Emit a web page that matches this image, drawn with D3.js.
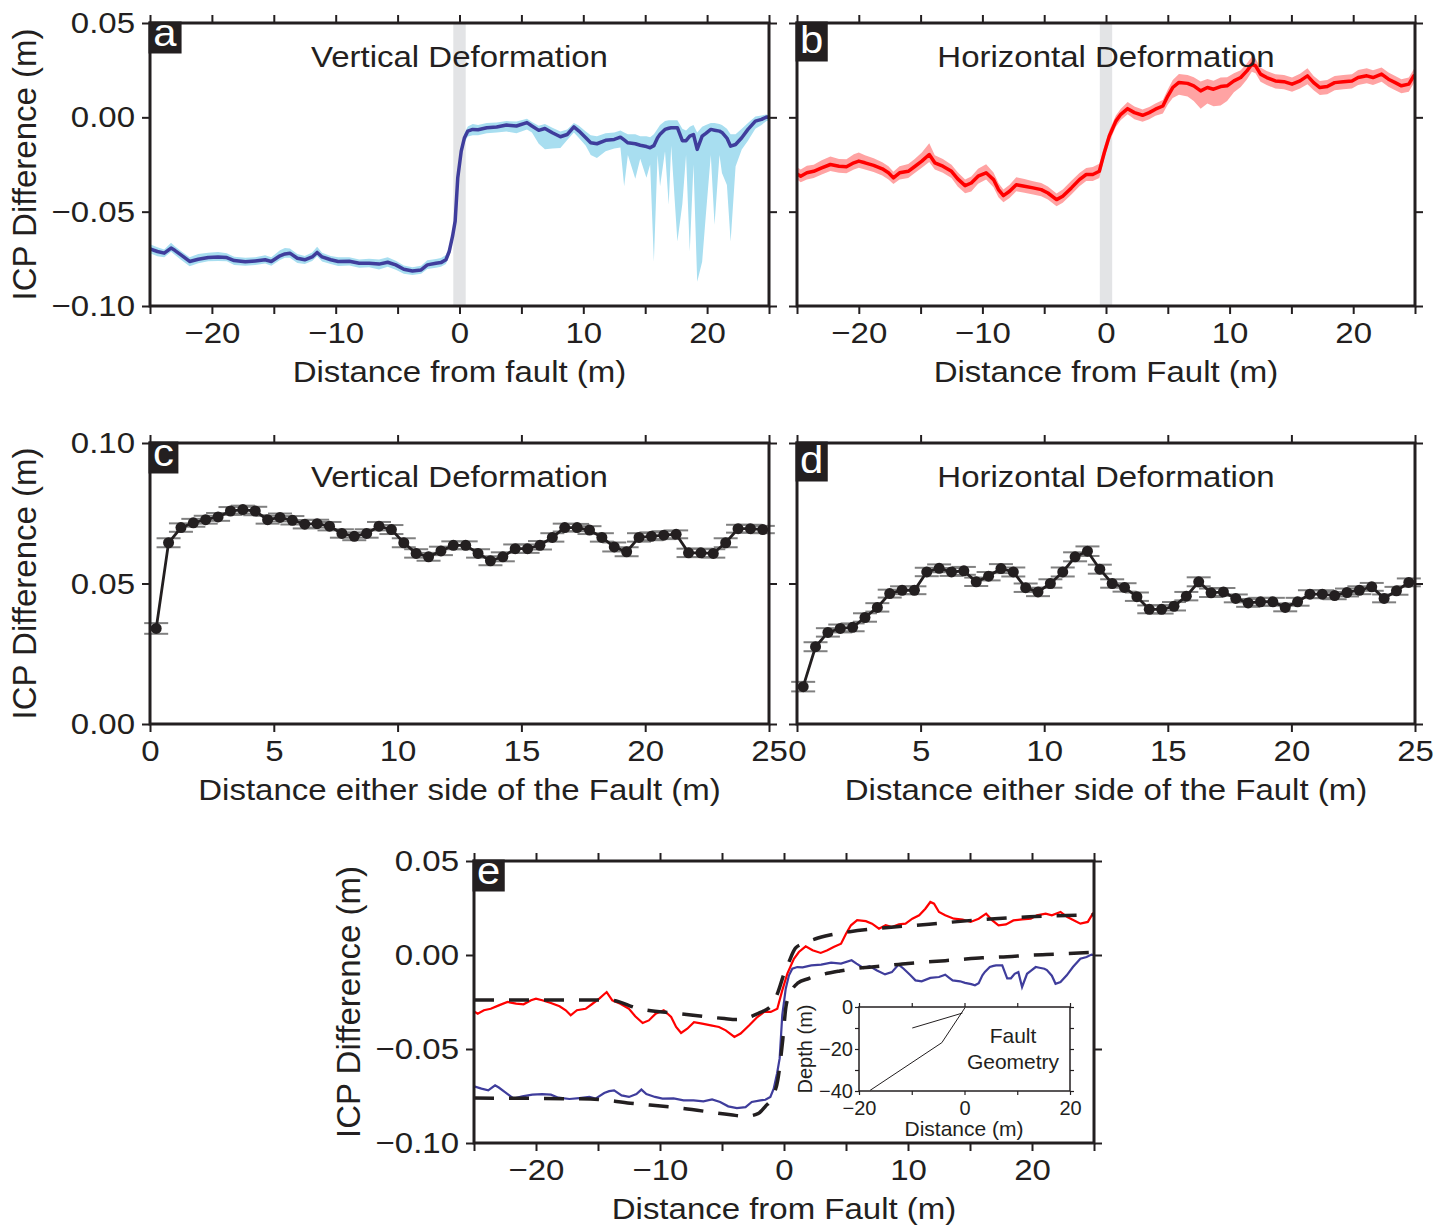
<!DOCTYPE html>
<html>
<head>
<meta charset="utf-8">
<script src="https://cdn.jsdelivr.net/npm/d3@7"></script>
<style>
body { margin: 0; background: #fff; }
svg text { font-family: "Liberation Sans", Arial, Helvetica, sans-serif; fill: #231f20; }
.wide { transform-box: fill-box; transform-origin: center; transform: scaleX(1.1); }
.wideR { transform-box: fill-box; transform-origin: right center; transform: scaleX(1.1); }
</style>
</head>
<body>
<svg id="chart" width="1450" height="1226"></svg>
<script>
// ---- data ----
// profile across the fault, vertical component (panels a, e)
let vertX = [-25.0,-24.4,-23.85,-23.3,-23.0,-22.5,-21.8,-21.1,-20.3,-19.5,-18.8,-18.2,-17.3,-16.5,-15.7,-15.2,-14.5,-14.1,-13.7,-13.1,
  -12.5,-11.9,-11.5,-11.1,-10.4,-9.8,-8.9,-8.1,-7.3,-6.5,-5.8,-5.15,-4.5,-3.8,-3.1,-2.6,-1.9,-1.5,-1.1,-0.83,
  -0.56,-0.35,-0.14,0.14,0.40,0.67,1.07,1.5,
  2.2,3.0,3.8,4.6,5.45,5.85,6.4,6.9,7.5,8.15,8.7,9.24,9.65,10.2,10.6,11.1,11.8,12.5,13.0,13.3,13.6,14.2,14.6,15.1,15.4,
  15.7,16.0,16.2,16.6,16.9,17.1,17.6,18.0,18.3,18.6,18.9,19.2,19.6,19.9,20.3,20.6,21.0,21.2,21.6,21.9,22.3,22.8,23.3,
  23.9,24.4,24.8,25.0];
let vertY = [-.0698,-.0711,-.0720,-.0693,-.0705,-.0729,-.0764,-.0752,-.0743,-.0740,-.0743,-.0759,-.0766,-.0761,-.0755,-.0764,-.0734,-.0724,-.0720,-.0747,
  -.0755,-.0740,-.0716,-.0740,-.0755,-.0764,-.0763,-.0773,-.0773,-.0778,-.0768,-.0782,-.0805,-.0814,-.0809,-.0782,-.0773,-.0770,-.0755,-.0711,
  -.0630,-.0550,-.0320,-.0179,-.0108,-.0073,-.0064,-.0066,
  -.0055,-.0051,-.0041,-.0046,-.0028,-.0046,-.0069,-.0059,-.0082,-.0103,-.0091,-.0051,-.0073,-.0108,-.0135,-.0140,-.0122,-.0117,-.0105,-.0120,-.0135,
  -.0140,-.0148,-.0155,-.0161,-.0150,-.0108,-.0090,-.0064,-.0058,-.0055,-.0055,-.0124,-.0124,-.0100,-.0091,-.0170,-.0100,-.0085,-.0064,-.0068,
  -.0073,-.0080,-.0110,-.0153,-.0144,-.0108,-.0064,-.0020,-.0011,.0002,.0000];
let vertUp = [.0025,.0022,.0020,.0028,.0022,.0020,.0022,.0028,.0025,.0026,.0022,.0020,.0022,.0020,.0024,.0022,.0030,.0032,.0025,.0022,
  .0020,.0024,.0030,.0022,.0020,.0022,.0022,.0020,.0024,.0025,.0026,.0022,.0020,.0020,.0022,.0024,.0022,.0024,.0025,.0025,
  .0025,.0025,.0025,.0025,.0025,.0025,.0029,.0026,
  .0025,.0023,.0021,.0024,.0020,.0021,.0024,.0024,.0027,.0028,.0026,.0021,.0028,.0033,.0040,.0040,.0037,.0037,.0035,.0040,.0045,
  .0050,.0048,.0055,.0056,.0060,.0048,.0050,.0044,.0043,.0040,.0040,.0064,.0054,.0050,.0051,.0090,.0050,.0045,.0034,.0038,
  .0038,.0040,.0050,.0063,.0054,.0048,.0034,.0025,.0021,.0013,.0010];
let vertDown = [.0022,.0025,.0022,.0020,.0024,.0026,.0025,.0022,.0020,.0022,.0020,.0024,.0020,.0022,.0020,.0022,.0022,.0020,.0024,.0025,
  .0022,.0022,.0020,.0024,.0022,.0024,.0022,.0024,.0022,.0028,.0024,.0026,.0024,.0022,.0020,.0022,.0024,.0022,.0022,.0025,
  .0025,.0025,.0025,.0025,.0025,.0028,.0031,.0029,
  .0030,.0029,.0034,.0039,.0037,.0034,.0071,.0110,.0083,.0060,.0029,.0029,.0037,.0042,.0065,.0075,.0058,.0048,.0055,.0245,.0065,
  .0186,.0072,.0165,.0089,.0615,.0092,.0275,.0116,.0405,.0095,.0603,.0336,.0076,.0611,.0159,.0701,.0665,.0431,.0136,.0501,
  .0127,.0215,.0248,.0505,.0116,.0062,.0060,.0040,.0029,.0022,.0020];

// profile across the fault, horizontal component (panels b, e)
let horizX = [-25.0,-24.7,-24.2,-23.65,-23.0,-22.3,-21.6,-21.0,-20.4,-20.0,-19.5,-18.8,-18.1,-17.6,-17.2,-16.7,-16.0,-15.5,-14.9,-14.3,
  -13.85,-13.2,-12.5,-12.0,-11.4,-10.9,-10.35,-9.7,-9.1,-8.7,-8.3,-7.8,-7.26,-6.6,-5.9,-5.24,-4.7,-4.0,-3.5,-2.8,
  -2.15,-1.6,-1.07,-0.54,-0.14,0.27,0.8,1.2,1.75,2.3,2.96,3.5,4.0,4.6,5.0,5.4,5.9,6.6,7.1,7.66,
  8.2,8.7,9.27,9.8,10.35,10.9,11.4,11.8,12.1,12.5,13.0,13.7,14.4,15.05,15.7,16.3,16.8,17.3,17.9,18.5,
  19.2,19.9,20.4,21.1,21.6,22.3,22.85,23.4,23.9,24.5,24.9,25.0];
let horizY = [-.0300,-.0312,-.0294,-.0286,-.0268,-.0250,-.0259,-.0262,-.0241,-.0232,-.0241,-.0255,-.0273,-.0294,-.0321,-.0294,-.0286,-.0262,-.0232,-.0197,
  -.0241,-.0259,-.0286,-.0326,-.0362,-.0348,-.0312,-.0294,-.0330,-.0383,-.0415,-.0392,-.0357,-.0365,-.0374,-.0383,-.0401,-.0436,-.0418,-.0374,
  -.0330,-.0303,-.0303,-.0286,-.0188,-.0099,-.0020,.0016,.0046,.0025,.0011,.0025,.0043,.0060,.0113,.0158,.0185,.0180,.0167,.0140,
  .0158,.0149,.0163,.0167,.0193,.0211,.0246,.0282,.0273,.0229,.0211,.0193,.0189,.0176,.0193,.0220,.0184,.0158,.0163,.0184,
  .0189,.0193,.0211,.0220,.0211,.0229,.0202,.0184,.0167,.0176,.0220,.0215];
let horizUp = [.0035,.0035,.0038,.0035,.0040,.0042,.0038,.0040,.0045,.0045,.0040,.0038,.0035,.0035,.0032,.0035,.0038,.0040,.0045,.0060,
  .0040,.0038,.0035,.0035,.0032,.0035,.0040,.0045,.0038,.0035,.0032,.0035,.0040,.0038,.0035,.0035,.0035,.0032,.0035,.0038,
  .0035,.0035,.0040,.0040,.0035,.0030,.0030,.0030,.0035,.0032,.0030,.0030,.0030,.0032,.0035,.0040,.0045,.0045,.0045,.0050,
  .0045,.0045,.0048,.0045,.0040,.0038,.0040,.0040,.0038,.0035,.0035,.0035,.0035,.0035,.0038,.0040,.0035,.0035,.0035,.0035,
  .0035,.0035,.0040,.0040,.0038,.0035,.0035,.0035,.0035,.0035,.0035,.0035];
let horizDown = [.0030,.0032,.0035,.0035,.0035,.0035,.0035,.0035,.0035,.0035,.0035,.0035,.0035,.0035,.0032,.0035,.0035,.0035,.0035,.0040,
  .0035,.0035,.0035,.0040,.0040,.0045,.0040,.0035,.0040,.0040,.0035,.0035,.0035,.0035,.0035,.0035,.0035,.0035,.0035,.0035,
  .0035,.0035,.0035,.0035,.0030,.0030,.0030,.0030,.0030,.0035,.0035,.0035,.0035,.0040,.0045,.0055,.0065,.0070,.0080,.0095,
  .0085,.0090,.0100,.0080,.0060,.0050,.0045,.0040,.0040,.0040,.0040,.0040,.0040,.0040,.0040,.0045,.0040,.0040,.0040,.0040,
  .0040,.0040,.0040,.0040,.0040,.0040,.0040,.0040,.0040,.0040,.0040,.0040];

// offset either side of the fault (panels c, d)
let sideDist = [0.25,0.75,1.25,1.75,2.25,2.75,3.25,3.75,4.25,4.75,5.25,5.75,6.25,6.75,7.25,7.75,8.25,8.75,9.25,9.75,
  10.25,10.75,11.25,11.75,12.25,12.75,13.25,13.75,14.25,14.75,15.25,15.75,16.25,16.75,17.25,17.75,18.25,18.75,19.25,19.75,
  20.25,20.75,21.25,21.75,22.25,22.75,23.25,23.75,24.25,24.75];
let vertOffset = [.0340,.0645,.0699,.0716,.0727,.0737,.0758,.0763,.0758,.0727,.0735,.0725,.0711,.0713,.0704,.0678,.0668,.0678,.0704,.0692,
  .0645,.0607,.0595,.0616,.0636,.0636,.0607,.0581,.0595,.0624,.0624,.0636,.0664,.0699,.0699,.0690,.0664,.0630,.0613,.0664,
  .0668,.0672,.0675,.0609,.0609,.0607,.0645,.0695,.0695,.0692];
let vertOffsetErr = [.0019,.0016,.0015,.0014,.0014,.0014,.0014,.0014,.0015,.0014,.0014,.0015,.0015,.0014,.0015,.0015,.0014,.0015,.0015,.0016,
  .0016,.0015,.0014,.0015,.0014,.0014,.0015,.0016,.0016,.0015,.0015,.0015,.0015,.0014,.0013,.0014,.0015,.0016,.0016,.0015,
  .0014,.0014,.0014,.0015,.0015,.0015,.0016,.0014,.0014,.0013];
let horizOffset = [.0133,.0275,.0326,.0340,.0344,.0379,.0415,.0464,.0476,.0476,.0541,.0554,.0541,.0545,.0506,.0526,.0553,.0541,.0485,.0470,
  .0500,.0541,.0595,.0615,.0551,.0500,.0486,.0453,.0408,.0408,.0419,.0455,.0506,.0467,.0470,.0447,.0431,.0435,.0435,.0415,
  .0435,.0462,.0462,.0457,.0468,.0476,.0488,.0447,.0474,.0504];
let horizOffsetErr = [.0017,.0016,.0015,.0014,.0014,.0015,.0015,.0014,.0014,.0014,.0015,.0014,.0014,.0014,.0015,.0015,.0016,.0016,.0015,.0015,
  .0015,.0016,.0016,.0017,.0016,.0015,.0015,.0015,.0014,.0015,.0015,.0015,.0016,.0015,.0014,.0014,.0014,.0014,.0014,.0014,
  .0014,.0014,.0014,.0013,.0014,.0014,.0014,.0014,.0014,.0014];

// dislocation model curves (panel e)
let horizModelX = [-25,-14,-11.8,-8.6,-4.8,-3.85,-2.06,-0.98,-0.5,0,0.38,0.92,1.6,2.5,3.7,5.3,7.7,11.7,15.7,19.8,25];
let horizModelY = [-.0240,-.0240,-.0284,-.0311,-.0338,-.0343,-.0310,-.0267,-.0200,-.0100,-.0040,.0036,.0062,.0085,.0106,.0124,.0142,.0164,.0187,.0203,.0214];
let vertModelX = [-25,-15.6,-12.4,-8.35,-4.3,-3.1,-2.1,-1.5,-0.9,-0.5,-0.1,0.16,0.5,1.1,2,3,4.5,6,8,10,12,14,16,18,20,22,25];
let vertModelY = [-.0761,-.0766,-.0788,-.0814,-.0850,-.0858,-.0844,-.0805,-.0752,-.0664,-.0451,-.0274,-.0204,-.0150,-.0125,-.0105,-.0085,-.0070,-.0058,-.0045,-.0035,-.0025,-.0015,-.0009,.0000,.0005,.0015];

// fault geometry inset (distance, depth in m)
let faultX = [0.1, -4.3, -17.9];
let faultZ = [-0.3, -17, -39.7];
let splayX = [-9.9, -0.4];
let splayZ = [-10, -2.9];
let faultZone = [-0.5, 0.5];

// ticks
let faultTicks = [-25,-20,-15,-10,-5,0,5,10,15,20,25];
let faultTickLabels = [-20,-10,0,10,20];
let sideTicks = [0,5,10,15,20,25];
let profileYTicks = [-0.10,-0.05,0.00,0.05];
let offsetYTicks = [0.00,0.05,0.10];

// ---- drawing ----
const ink = "#231f20";
const svg = d3.select("#chart");
const fmtY = d3.format(".2f");
const fmtX = d3.format("d");

function makePanel(id, box, xd, yd) {
  const g = svg.append("g");
  const x = d3.scaleLinear().domain(xd).range([box.x0, box.x1]);
  const y = d3.scaleLinear().domain(yd).range([box.y1, box.y0]);
  g.append("clipPath").attr("id", id).append("rect")
    .attr("x", box.x0).attr("y", box.y0)
    .attr("width", box.x1 - box.x0).attr("height", box.y1 - box.y0);
  const body = g.append("g").attr("clip-path", "url(#" + id + ")");
  return {g, body, x, y, box};
}

function styleAxis(sel) {
  sel.attr("font-size", null).attr("font-family", null);
  sel.select(".domain").remove();
  sel.selectAll("line").attr("stroke", ink).attr("stroke-width", 2);
}

function drawAxes(p, xt, xLab, yt, yLab) {
  const b = p.box, tk = 8;
  p.g.append("g").attr("transform", "translate(0," + b.y1 + ")")
    .call(d3.axisBottom(p.x).tickValues(xt).tickSize(tk).tickSizeOuter(0).tickPadding(8)
      .tickFormat(d => xLab.includes(d) ? fmtX(d) : ""))
    .call(styleAxis)
    .selectAll("text").attr("font-size", 30).attr("class", "wide");
  p.g.append("g").attr("transform", "translate(0," + b.y0 + ")")
    .call(d3.axisTop(p.x).tickValues(xt).tickSize(tk).tickSizeOuter(0).tickFormat(""))
    .call(styleAxis);
  p.g.append("g").attr("transform", "translate(" + b.x0 + ",0)")
    .call(d3.axisLeft(p.y).tickValues(yt).tickSize(tk).tickSizeOuter(0).tickPadding(7)
      .tickFormat(d => yLab ? fmtY(d) : ""))
    .call(styleAxis)
    .selectAll("text").attr("font-size", 30).attr("class", "wideR");
  p.g.append("g").attr("transform", "translate(" + b.x1 + ",0)")
    .call(d3.axisRight(p.y).tickValues(yt).tickSize(tk).tickSizeOuter(0).tickFormat(""))
    .call(styleAxis);
  p.g.append("rect").attr("x", b.x0).attr("y", b.y0)
    .attr("width", b.x1 - b.x0).attr("height", b.y1 - b.y0)
    .attr("fill", "none").attr("stroke", ink).attr("stroke-width", 3);
}

function panelLetter(p, letter) {
  const b = p.box;
  const tall = "bdfhklt".includes(letter);
  const r = p.g.append("rect").attr("fill", ink).attr("x", b.x0 - 1.5).attr("y", b.y0 - 1.5);
  const t = p.g.append("text").attr("class", "wide").attr("font-size", 38)
    .attr("text-anchor", "middle").style("fill", "#fff").text(letter);
  const w = t.node().getBBox().width * 1.1 + 9;
  const h = tall ? 40 : 32;
  r.attr("width", w).attr("height", h);
  t.attr("x", b.x0 - 1.5 + w / 2).attr("y", b.y0 - 1.5 + (tall ? 32 : 25));
}

function title(p, txt) {
  const b = p.box;
  p.g.append("text").attr("class", "wide").attr("font-size", 30).attr("text-anchor", "middle")
    .attr("x", (b.x0 + b.x1) / 2).attr("y", b.y0 + 44).text(txt);
}

function xLabel(p, txt) {
  const b = p.box;
  p.g.append("text").attr("class", "wide").attr("font-size", 30).attr("text-anchor", "middle")
    .attr("x", (b.x0 + b.x1) / 2).attr("y", b.y1 + 76).text(txt);
}

function yLabel(p, bx) {
  const b = p.box;
  p.g.append("g").attr("transform", "translate(" + bx + "," + (b.y0 + b.y1) / 2 + ") rotate(-90)")
    .append("text").attr("font-size", 33).attr("text-anchor", "middle").text("ICP Difference (m)");
}

function profilePanel(id, box, xs, ys, up, down, lineCol, bandCol, ttl, xl, yLab, letter) {
  const p = makePanel(id, box, [-25, 25], [-0.10, 0.05]);
  const idx = d3.range(xs.length);
  p.body.append("rect").attr("x", p.x(faultZone[0])).attr("y", box.y0)
    .attr("width", p.x(faultZone[1]) - p.x(faultZone[0])).attr("height", box.y1 - box.y0)
    .attr("fill", "#e3e4e6");
  p.body.append("path").datum(idx).attr("fill", bandCol)
    .attr("d", d3.area().x(i => p.x(xs[i])).y0(i => p.y(ys[i] - down[i])).y1(i => p.y(ys[i] + up[i])));
  p.body.append("path").datum(idx).attr("fill", "none").attr("stroke", lineCol)
    .attr("stroke-width", 3.5).attr("stroke-linejoin", "round")
    .attr("d", d3.line().x(i => p.x(xs[i])).y(i => p.y(ys[i])));
  title(p, ttl);
  drawAxes(p, faultTicks, faultTickLabels, profileYTicks, yLab);
  xLabel(p, xl);
  if (yLab) yLabel(p, 36);
  panelLetter(p, letter);
}

function offsetPanel(id, box, vals, errs, ttl, yLab, letter) {
  const p = makePanel(id, box, [0, 25], [0, 0.10]);
  const idx = d3.range(sideDist.length);
  const bars = p.g.append("g").attr("stroke", "#808080").attr("stroke-width", 2);
  idx.forEach(i => {
    const cx = p.x(sideDist[i]);
    const hi = p.y(vals[i] + errs[i]), lo = p.y(vals[i] - errs[i]);
    bars.append("line").attr("x1", cx - 12).attr("x2", cx + 12).attr("y1", hi).attr("y2", hi);
    bars.append("line").attr("x1", cx - 12).attr("x2", cx + 12).attr("y1", lo).attr("y2", lo);
    bars.append("line").attr("x1", cx).attr("x2", cx).attr("y1", hi).attr("y2", lo);
  });
  p.g.append("path").datum(idx).attr("fill", "none").attr("stroke", ink).attr("stroke-width", 2.8)
    .attr("d", d3.line().x(i => p.x(sideDist[i])).y(i => p.y(vals[i])));
  p.g.selectAll("circle.pt").data(idx).enter().append("circle").attr("class", "pt")
    .attr("cx", i => p.x(sideDist[i])).attr("cy", i => p.y(vals[i])).attr("r", 5.5).attr("fill", ink);
  title(p, ttl);
  drawAxes(p, sideTicks, sideTicks, offsetYTicks, yLab);
  xLabel(p, "Distance either side of the Fault (m)");
  if (yLab) yLabel(p, 36);
  panelLetter(p, letter);
}

// panels a - d
profilePanel("clipA", {x0: 150, x1: 769, y0: 23, y1: 306}, vertX, vertY, vertUp, vertDown,
  "#3f3d9c", "#a8def0", "Vertical Deformation", "Distance from fault (m)", true, "a");
profilePanel("clipB", {x0: 797, x1: 1415, y0: 23, y1: 306}, horizX, horizY, horizUp, horizDown,
  "#ff0000", "#ffa3a3", "Horizontal Deformation", "Distance from Fault (m)", false, "b");
offsetPanel("clipC", {x0: 150, x1: 769, y0: 443, y1: 724}, vertOffset, vertOffsetErr, "Vertical Deformation", true, "c");
offsetPanel("clipD", {x0: 797, x1: 1415, y0: 443, y1: 724}, horizOffset, horizOffsetErr, "Horizontal Deformation", false, "d");

// panel e: both profiles with model curves and fault geometry inset
const pe = makePanel("clipE", {x0: 474, x1: 1094, y0: 861, y1: 1143}, [-25, 25], [-0.10, 0.05]);
const lineE = (xs, ys) => d3.line().x(i => pe.x(xs[i])).y(i => pe.y(ys[i]))(d3.range(xs.length));
pe.body.append("path").attr("d", lineE(vertX, vertY)).attr("fill", "none").attr("stroke", "#3f3d9c").attr("stroke-width", 2.2);
pe.body.append("path").attr("d", lineE(horizX, horizY)).attr("fill", "none").attr("stroke", "#ff0000").attr("stroke-width", 2.2);
const modelLine = (xs, ys) => d3.line().curve(d3.curveMonotoneX).x(i => pe.x(xs[i])).y(i => pe.y(ys[i]))(d3.range(xs.length));
[[horizModelX, horizModelY], [vertModelX, vertModelY]].forEach(m => {
  pe.body.append("path").attr("d", modelLine(m[0], m[1])).attr("fill", "none")
    .attr("stroke", ink).attr("stroke-width", 3.5).attr("stroke-dasharray", "20,15");
});

// inset
const ib = {x0: 859, x1: 1070, y0: 1007, y1: 1091};
const ix = d3.scaleLinear().domain([-20, 20]).range([ib.x0, ib.x1]);
const iy = d3.scaleLinear().domain([-40, 0]).range([ib.y1, ib.y0]);
const ig = pe.g.append("g");
ig.append("rect").attr("x", ib.x0).attr("y", ib.y0).attr("width", ib.x1 - ib.x0).attr("height", ib.y1 - ib.y0)
  .attr("fill", "#fff");
const insetAxis = (axis, tr, vals, labs, pad) => {
  ig.append("g").attr("transform", tr)
    .call(axis.tickValues(vals).tickSize(4).tickSizeOuter(0).tickPadding(pad)
      .tickFormat(d => labs.includes(d) ? fmtX(d) : ""))
    .call(styleAxis)
    .call(s => s.selectAll("line").attr("stroke-width", 1.2))
    .selectAll("text").attr("font-size", 20);
};
insetAxis(d3.axisBottom(ix), "translate(0," + ib.y1 + ")", [-20,-10,0,10,20], [-20,0,20], 6);
insetAxis(d3.axisTop(ix), "translate(0," + ib.y0 + ")", [-20,-10,0,10,20], [], 3);
insetAxis(d3.axisLeft(iy), "translate(" + ib.x0 + ",0)", [0,-10,-20,-30,-40], [0,-20,-40], 2);
insetAxis(d3.axisRight(iy), "translate(" + ib.x1 + ",0)", [0,-10,-20,-30,-40], [], 3);
ig.append("rect").attr("x", ib.x0).attr("y", ib.y0).attr("width", ib.x1 - ib.x0).attr("height", ib.y1 - ib.y0)
  .attr("fill", "none").attr("stroke", ink).attr("stroke-width", 1.5);
const faultLine = (xs, zs) => d3.line().x(i => ix(xs[i])).y(i => iy(zs[i]))(d3.range(xs.length));
ig.append("path").attr("d", faultLine(faultX, faultZ)).attr("fill", "none").attr("stroke", ink).attr("stroke-width", 1);
ig.append("path").attr("d", faultLine(splayX, splayZ)).attr("fill", "none").attr("stroke", ink).attr("stroke-width", 1);
ig.append("text").attr("font-size", 21).attr("text-anchor", "middle").attr("x", 1013).attr("y", 1043).text("Fault");
ig.append("text").attr("font-size", 21).attr("text-anchor", "middle").attr("x", 1013).attr("y", 1069).text("Geometry");
ig.append("text").attr("font-size", 21).attr("text-anchor", "middle").attr("x", 964).attr("y", 1136).text("Distance (m)");
ig.append("g").attr("transform", "translate(812," + (ib.y0 + ib.y1) / 2 + ") rotate(-90)")
  .append("text").attr("font-size", 20).attr("text-anchor", "middle").text("Depth (m)");

drawAxes(pe, faultTicks, faultTickLabels, profileYTicks, true);
xLabel(pe, "Distance from Fault (m)");
yLabel(pe, 360);
panelLetter(pe, "e");
</script>
</body>
</html>
